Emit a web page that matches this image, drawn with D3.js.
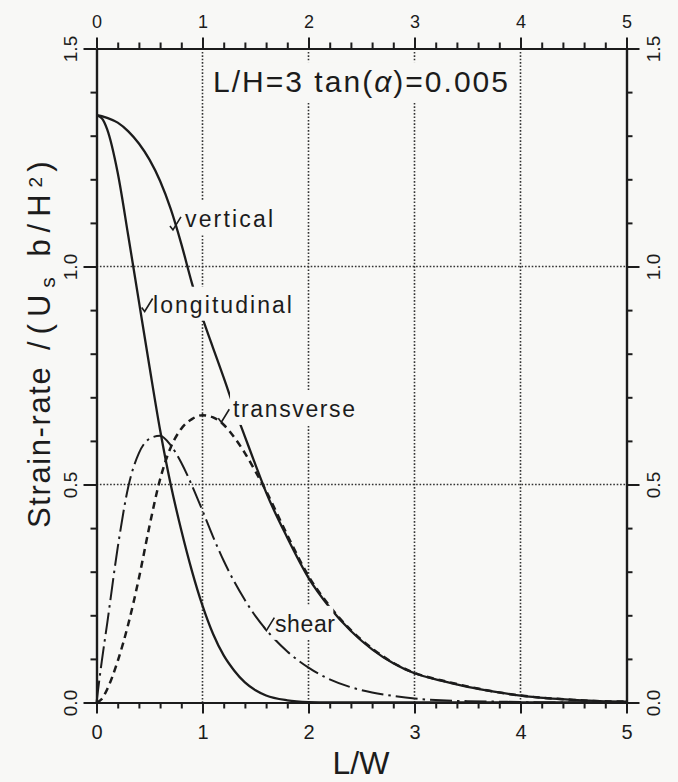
<!DOCTYPE html>
<html>
<head>
<meta charset="utf-8">
<script src="https://cdn.jsdelivr.net/npm/d3@7"></script>
<style>
  body { margin: 0; background: #f8f8f6; }
  svg { display: block; }
</style>
</head>
<body>
<div id="chart"></div>
<script>
// L/W positions shared by all four curves
const lw = [0, 0.05, 0.1, 0.2, 0.3, 0.4, 0.5, 0.6, 0.7, 0.8, 0.9, 1.0, 1.1, 1.2, 1.3, 1.4, 1.5, 1.6,
            1.8, 2.0, 2.2, 2.4, 2.6, 2.8, 3.0, 3.25, 3.5, 3.75, 4.0, 4.25, 4.5, 4.75, 5.0];

const vertical = [1.347, 1.345, 1.341, 1.330, 1.310, 1.282, 1.245, 1.196, 1.132, 1.052, 0.962, 0.882,
                  0.813, 0.745, 0.675, 0.610, 0.545, 0.482, 0.378, 0.286, 0.218, 0.164, 0.122, 0.090,
                  0.067, 0.050, 0.036, 0.025, 0.016, 0.010, 0.006, 0.003, 0.002];

const longitudinal = [1.347, 1.340, 1.315, 1.215, 1.070, 0.920, 0.770, 0.625, 0.500, 0.395, 0.302, 0.222,
                      0.157, 0.108, 0.073, 0.046, 0.028, 0.016, 0.005, 0.001, 0, 0, 0, 0,
                      0, 0, 0, 0, 0, 0, 0, 0, 0];

const transverse = [0, 0.008, 0.030, 0.095, 0.180, 0.285, 0.405, 0.512, 0.585, 0.628, 0.650, 0.659,
                    0.654, 0.637, 0.608, 0.572, 0.530, 0.485, 0.384, 0.290, 0.221, 0.166, 0.124, 0.091,
                    0.068, 0.051, 0.037, 0.025, 0.016, 0.010, 0.006, 0.003, 0.002];

const shear = [0, 0.095, 0.180, 0.355, 0.495, 0.572, 0.605, 0.612, 0.590, 0.550, 0.498, 0.440,
               0.380, 0.325, 0.277, 0.235, 0.198, 0.167, 0.117, 0.080, 0.053, 0.035, 0.023, 0.015,
               0.009, 0.005, 0.003, 0.002, 0.001, 0, 0, 0, 0];

const xTicks = [0, 1, 2, 3, 4, 5];
const yTicks = [0.0, 0.5, 1.0, 1.5];
const xGrid = [1, 2, 3, 4];
const yGrid = [0.5, 1.0];

const width = 678;
const height = 782;
const margin = {top: 48.5, right: 51.5, bottom: 79.5, left: 96.5};
const innerW = width - margin.left - margin.right;
const innerH = height - margin.top - margin.bottom;
const ink = "#1c1c1c";
const bg = "#f8f8f6";
const font = "'Liberation Sans', Arial, sans-serif";

const svg = d3.select("#chart")
    .append("svg")
    .attr("width", width)
    .attr("height", height)
    .style("background", bg);

const g = svg.append("g")
    .attr("transform", `translate(${margin.left},${margin.top})`);

const x = d3.scaleLinear().domain([0, 5]).range([0, innerW]);
const y = d3.scaleLinear().domain([0, 1.5]).range([innerH, 0]);

// dotted grid
g.selectAll(".vgrid")
    .data(xGrid)
    .enter().append("line")
    .attr("x1", d => x(d)).attr("x2", d => x(d))
    .attr("y1", 0).attr("y2", innerH)
    .attr("stroke", "#333")
    .attr("stroke-width", 1.6)
    .attr("stroke-dasharray", "1.6,1.8");

g.selectAll(".hgrid")
    .data(yGrid)
    .enter().append("line")
    .attr("x1", 0).attr("x2", innerW)
    .attr("y1", d => y(d)).attr("y2", d => y(d))
    .attr("stroke", "#333")
    .attr("stroke-width", 1.6)
    .attr("stroke-dasharray", "1.6,1.8");

// curves
const line = d3.line()
    .x(d => x(d[0]))
    .y(d => y(d[1]))
    .curve(d3.curveMonotoneX);

const series = [
  {name: "vertical", values: vertical, dash: null, w: 2.3},
  {name: "longitudinal", values: longitudinal, dash: null, w: 2.3},
  {name: "transverse", values: transverse, dash: "7,5", w: 2.5},
  {name: "shear", values: shear, dash: "22,5,2.5,5", w: 2}
];

g.selectAll(".curve")
    .data(series)
    .enter().append("path")
    .attr("class", "curve")
    .attr("fill", "none")
    .attr("stroke", ink)
    .attr("stroke-width", d => d.w)
    .attr("stroke-dasharray", d => d.dash)
    .attr("d", d => line(lw.map((v, i) => [v, d.values[i]])));

// curve labels, blank boxes cut the lines behind them
const labels = [
  {text: "vertical", lx: 0.835, ly: 1.091, len: 88, px: 0.693, py: 1.093, padR: 3},
  {text: "longitudinal", lx: 0.533, ly: 0.894, len: 139, px: 0.426, py: 0.906, padR: 3},
  {text: "transverse", lx: 1.288, ly: 0.655, len: 122, px: 1.149, py: 0.652, padR: 3},
  {text: "shear", lx: 1.684, ly: 0.162, len: 60, px: 1.574, py: 0.174, padR: -2}
];

labels.forEach(l => {
  const box = g.append("rect").attr("fill", bg);
  const t = g.append("text")
      .attr("x", x(l.lx))
      .attr("y", y(l.ly))
      .attr("textLength", l.len)
      .attr("lengthAdjust", "spacing")
      .style("font-family", font)
      .style("font-size", "23px")
      .style("fill", ink)
      .text(l.text);
  const bb = t.node().getBBox();
  box.attr("x", bb.x - 3).attr("y", bb.y - 5)
      .attr("width", bb.width + 3 + l.padR).attr("height", bb.height + 8);
  const p = [x(l.px), y(l.py)];
  g.append("path")
      .attr("fill", "none")
      .attr("stroke", ink)
      .attr("stroke-width", 1.6)
      .attr("d", `M${p[0]},${p[1]} L${p[0] + 3},${p[1] + 4} L${p[0] + 11},${p[1] - 9}`);
});

// annotation
const ann = g.append("text")
    .attr("x", x(1.099))
    .attr("y", y(1.400))
    .attr("textLength", 295)
    .attr("lengthAdjust", "spacing")
    .style("font-family", font)
    .style("font-size", "30px")
    .style("fill", ink);
ann.append("tspan").text("L/H=3 tan(");
ann.append("tspan").style("font-style", "italic").text("α");
ann.append("tspan").text(")=0.005");
const abb = ann.node().getBBox();
g.insert("rect", "text")
    .attr("fill", bg)
    .attr("x", abb.x - 3).attr("y", abb.y - 3)
    .attr("width", abb.width + 6).attr("height", abb.height + 6);

// axes: major ticks with labels, minor ticks without
function styleAxis(sel) {
  sel.select(".domain").attr("stroke", ink).attr("stroke-width", 2.2);
  sel.selectAll(".tick line").attr("stroke", ink).attr("stroke-width", 2);
  sel.selectAll("text").style("font-family", font).style("fill", ink);
}

const minorX = d3.range(0, 5.001, 0.2).filter(v => Math.abs(v - Math.round(v)) > 1e-6);
const minorY = d3.range(0, 1.5001, 0.1).filter(v => Math.abs(v * 2 - Math.round(v * 2)) > 1e-6);

// bottom
g.append("g").attr("transform", `translate(0,${innerH})`)
    .call(d3.axisBottom(x).tickValues(minorX).tickSize(6).tickSizeOuter(0).tickFormat(""))
    .call(styleAxis);
g.append("g").attr("transform", `translate(0,${innerH})`)
    .call(d3.axisBottom(x).tickValues(xTicks).tickSize(11).tickSizeOuter(0).tickFormat(d3.format("d")))
    .call(styleAxis)
    .call(a => a.selectAll("text").attr("y", 36).attr("dy", 0).style("font-size", "20px"));

// top
g.append("g")
    .call(d3.axisTop(x).tickValues(minorX).tickSize(6).tickSizeOuter(0).tickFormat(""))
    .call(styleAxis);
g.append("g")
    .call(d3.axisTop(x).tickValues(xTicks).tickSize(11).tickSizeOuter(0).tickFormat(d3.format("d")))
    .call(styleAxis)
    .call(a => a.selectAll("text").attr("y", -21).attr("dy", 0).style("font-size", "18px"));

// left
g.append("g")
    .call(d3.axisLeft(y).tickValues(minorY).tickSize(6).tickSizeOuter(0).tickFormat(""))
    .call(styleAxis);
g.append("g")
    .call(d3.axisLeft(y).tickValues(yTicks).tickSize(13).tickSizeOuter(0).tickFormat(d3.format(".1f")))
    .call(styleAxis)
    .call(a => a.selectAll("text")
        .attr("transform", "rotate(-90)")
        .attr("x", 0).attr("y", -19.5).attr("dy", 0)
        .attr("text-anchor", "middle")
        .style("font-size", "19px"));

// right
g.append("g").attr("transform", `translate(${innerW},0)`)
    .call(d3.axisRight(y).tickValues(minorY).tickSize(6).tickSizeOuter(0).tickFormat(""))
    .call(styleAxis);
g.append("g").attr("transform", `translate(${innerW},0)`)
    .call(d3.axisRight(y).tickValues(yTicks).tickSize(13).tickSizeOuter(0).tickFormat(d3.format(".1f")))
    .call(styleAxis)
    .call(a => a.selectAll("text")
        .attr("transform", "rotate(-90)")
        .attr("x", 0).attr("y", 33.5).attr("dy", 0)
        .attr("text-anchor", "middle")
        .style("font-size", "19px"));

// axis titles
svg.append("text")
    .attr("x", 361)
    .attr("y", 774)
    .attr("text-anchor", "middle")
    .style("font-family", font)
    .style("font-size", "32px")
    .style("fill", ink)
    .text("L/W");

const yt = svg.append("text")
    .attr("transform", "translate(50,528) rotate(-90)")
    .attr("text-anchor", "start")
    .style("font-family", font)
    .style("font-size", "31px")
    .style("fill", ink);
yt.append("tspan").style("letter-spacing", "1.6px").text("Strain-rate");
yt.append("tspan").style("letter-spacing", "7px").text(" /(U");
yt.append("tspan").attr("baseline-shift", "-25%").style("font-size", "21px").style("letter-spacing", "5px").text("s");
yt.append("tspan").style("letter-spacing", "7px").text(" b/H");
yt.append("tspan").attr("baseline-shift", "40%").style("font-size", "19px").style("letter-spacing", "5px").text("2");
yt.append("tspan").text(")");
</script>
</body>
</html>
